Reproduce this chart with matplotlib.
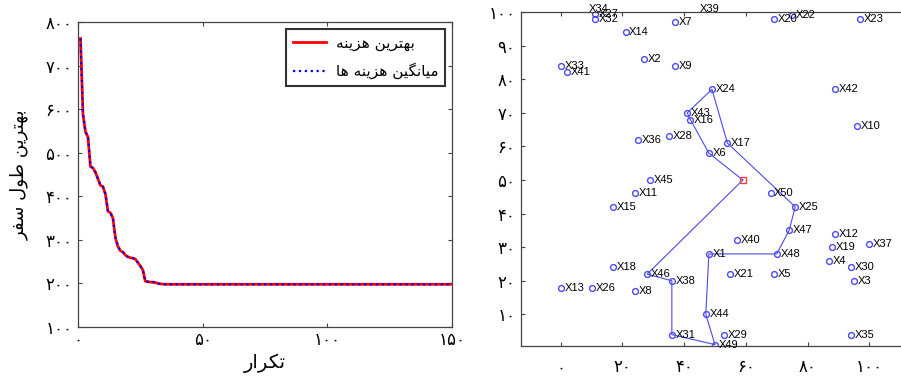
import matplotlib
matplotlib.use("Agg")
import matplotlib.pyplot as plt

# ---------------- data ----------------
iterations_shown = 150
best_cost_head = [762, 588, 548, 536, 468, 465, 455, 440, 425, 422, 405, 366, 362, 350,
                  305, 285, 275, 272, 265, 261, 259, 258, 256, 248, 240, 231, 205, 204,
                  203, 203, 202, 200, 199, 198.5]
plateau_cost = 198
best_cost = best_cost_head + [plateau_cost] * (iterations_shown - len(best_cost_head))
mean_cost = list(best_cost)

left_xticks = [0, 50, 100, 150]
left_yticks = [100, 200, 300, 400, 500, 600, 700, 800]

city_names = ["X%d" % i for i in range(1, 51)]
city_x = [48, 27, 95, 87, 69, 48, 37, 24, 37, 96, 24, 89, 0, 21, 17, 42, 54, 17, 88, 69,
          55, 75, 97, 49, 76, 10, 11, 35, 53, 94, 36, 11, 0, 8, 94, 25, 100, 36, 44, 57,
          2, 89, 41, 47, 29, 28, 74, 70, 50, 68]
city_y = [28, 86, 20, 26, 22, 58, 97, 17, 84, 66, 46, 34, 18, 94, 42, 68, 61, 24, 30, 98,
          22, 99, 98, 77, 42, 18, 99.5, 63, 4, 24, 4, 98, 84, 101, 4, 62, 31, 20, 101, 32,
          82, 77, 70, 10, 50, 22, 35, 28, 1, 46]
depot_x = [59]
depot_y = [50]
route = [46, 38, 31, 49, 44, 1, 48, 47, 25, 17, 24, 43, 16, 6]

right_xticks = [0, 20, 40, 60, 80, 100]
right_yticks = [10, 20, 30, 40, 50, 60, 70, 80, 90, 100]

label_best = "بهترین هزینه"
label_mean = "میانگین هزینه ها"
ylabel_text = "بهترین طول سفر"
xlabel_text = "تکرار"

# ---------------- helpers ----------------
FORMS = {
    'ا': ('\uFE8D', '\uFE8E', None, None),
    'ب': ('\uFE8F', '\uFE90', '\uFE91', '\uFE92'),
    'ت': ('\uFE95', '\uFE96', '\uFE97', '\uFE98'),
    'ر': ('\uFEAD', '\uFEAE', None, None),
    'ز': ('\uFEAF', '\uFEB0', None, None),
    'س': ('\uFEB1', '\uFEB2', '\uFEB3', '\uFEB4'),
    'ط': ('\uFEC1', '\uFEC2', '\uFEC3', '\uFEC4'),
    'ف': ('\uFED1', '\uFED2', '\uFED3', '\uFED4'),
    'ل': ('\uFEDD', '\uFEDE', '\uFEDF', '\uFEE0'),
    'م': ('\uFEE1', '\uFEE2', '\uFEE3', '\uFEE4'),
    'ن': ('\uFEE5', '\uFEE6', '\uFEE7', '\uFEE8'),
    'ه': ('\uFEE9', '\uFEEA', '\uFEEB', '\uFEEC'),
    'و': ('\uFEED', '\uFEEE', None, None),
    'ی': ('\uFBFC', '\uFBFD', '\uFBFE', '\uFBFF'),
    'ک': ('\uFB8E', '\uFB8F', '\uFB90', '\uFB91'),
    'گ': ('\uFB92', '\uFB93', '\uFB94', '\uFB95'),
}


def shape_fa(s):
    def dual(c):
        return c in FORMS and FORMS[c][2] is not None
    out = []
    for i, c in enumerate(s):
        if c not in FORMS:
            out.append(c)
            continue
        prev = s[i - 1] if i > 0 else ''
        nxt = s[i + 1] if i + 1 < len(s) else ''
        jp = dual(prev)
        jn = dual(c) and (nxt in FORMS)
        iso, fin, ini, med = FORMS[c]
        if jp and jn:
            out.append(med)
        elif jp:
            out.append(fin)
        elif jn:
            out.append(ini)
        else:
            out.append(iso)
    return ''.join(reversed(out))


FA_DIGITS = str.maketrans('0123456789', '۰۱۲۳۴۵۶۷۸۹')


def fa_num(v):
    return str(v).translate(FA_DIGITS)


plt.rcParams['font.family'] = ['DejaVu Sans']

fig = plt.figure(figsize=(9.01, 3.8), dpi=100)
W, H = 901.0, 380.0
spine_col = '#444444'

# ---------------- left panel ----------------
ax1 = fig.add_axes([78 / W, 53 / H, 374 / W, 305 / H])
xs = list(range(1, len(best_cost) + 1))
ax1.plot(xs, best_cost, color='#ff0000', lw=2.0, label=shape_fa(label_best))
ax1.plot(xs, mean_cost, color='#0000ff', lw=1.6, ls=':', label=shape_fa(label_mean))
ax1.set_xlim(0, 150)
ax1.set_ylim(100, 800)
ax1.set_xticks(left_xticks)
ax1.set_xticklabels([fa_num(v) for v in left_xticks], fontsize=12)
ax1.set_yticks(left_yticks)
ax1.set_yticklabels([fa_num(v) for v in left_yticks], fontsize=12)
ax1.tick_params(direction='in', top=True, right=True, length=3, width=0.8,
                colors=spine_col, labelcolor='black')
ax1.tick_params(axis='x', pad=3)
ax1.tick_params(axis='y', pad=4)
for sp in ax1.spines.values():
    sp.set_color(spine_col)
    sp.set_linewidth(0.9)
ax1.set_xlabel(shape_fa(xlabel_text), fontsize=14, labelpad=3)
ax1.set_ylabel(shape_fa(ylabel_text), fontsize=13, labelpad=12)
leg = ax1.legend(loc='upper right', fontsize=11, frameon=True, fancybox=False,
                 edgecolor='black', handlelength=2.2, borderaxespad=0.45,
                 handletextpad=0.6, labelspacing=0.75, borderpad=0.45)
leg.get_frame().set_linewidth(1.5)

# ---------------- right panel ----------------
ax2 = fig.add_axes([521 / W, 34 / H, 440 / W, 334 / H])
ax2.plot(city_x, city_y, ls='none', marker='o', ms=4.2, mfc='none',
         mec='#4a4af0', mew=1.0, clip_on=True)
rx = depot_x + [city_x[i - 1] for i in route] + depot_x
ry = depot_y + [city_y[i - 1] for i in route] + depot_y
ax2.plot(rx, ry, color='#4a4af0', lw=0.8)
ax2.plot(depot_x, depot_y, ls='none', marker='s', ms=5, mfc='none',
         mec='#f04040', mew=1.0)
for name, x, y in zip(city_names, city_x, city_y):
    ax2.annotate(name, (x, y), xytext=(2.6, 0), textcoords='offset points',
                 va='center', ha='left', fontsize=8, family='Liberation Sans',
                 annotation_clip=False)
ax2.set_xlim(-12.9, -12.9 + 440 / 3.085)
ax2.set_ylim(0.6, 100)
ax2.set_xticks(right_xticks)
ax2.set_xticklabels([fa_num(v) for v in right_xticks], fontsize=12)
ax2.set_yticks(right_yticks)
ax2.set_yticklabels([fa_num(v) for v in right_yticks], fontsize=12)
ax2.tick_params(direction='in', top=True, right=True, length=3, width=0.8,
                colors=spine_col, labelcolor='black')
ax2.tick_params(axis='x', pad=9)
ax2.tick_params(axis='y', pad=4)
for sp in ax2.spines.values():
    sp.set_color(spine_col)
    sp.set_linewidth(0.9)

fig.savefig('out.png', dpi=100)
